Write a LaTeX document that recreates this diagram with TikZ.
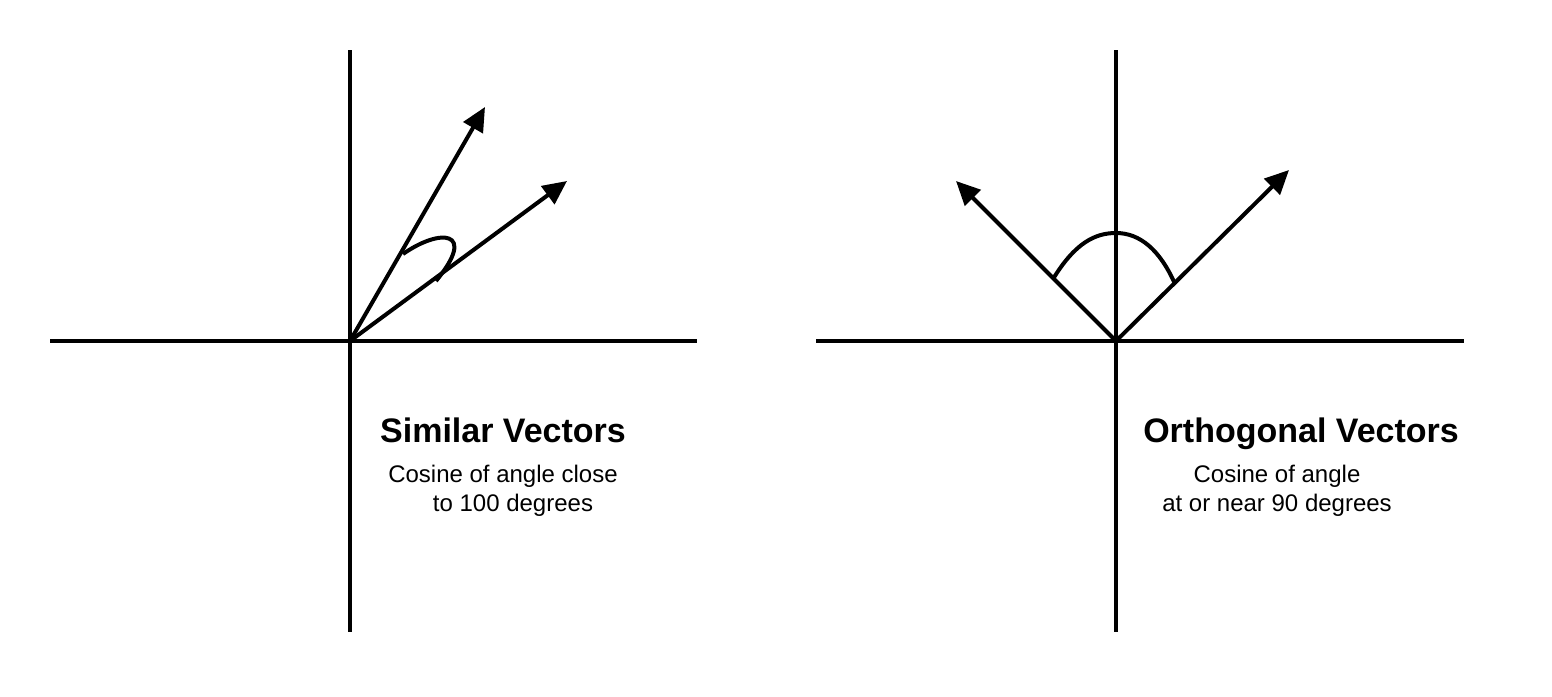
\documentclass[tikz,border=0pt]{standalone}
\usepackage{fontspec}
\setmainfont{Liberation Sans}
\usetikzlibrary{arrows.meta}
\begin{document}
\begin{tikzpicture}[x=1pt,y=-1pt,
  axis/.style={line width=4.4pt},
  vec/.style={line width=4pt,-{Triangle[length=24pt,width=22pt]}},
  anglearc/.style={line width=4pt},
  title/.style={font=\fontsize{34}{40}\selectfont\bfseries,anchor=base,inner sep=0pt},
  sub/.style={font=\fontsize{24}{28}\selectfont,anchor=base,inner sep=0pt}]
\useasboundingbox (0,0) rectangle (1552,696);
% left diagram
\coordinate (oL) at (350,341);
\coordinate (lxL) at (50,341);
\coordinate (lxR) at (697,341);
\coordinate (lyT) at (350,50);
\coordinate (lyB) at (350,632);
\coordinate (v1) at (485,107);
\coordinate (v2) at (567,181);
\draw[axis] (lxL) -- (lxR);
\draw[axis] (lyT) -- (lyB);
\draw[vec] (oL) -- (v1);
\draw[vec] (oL) -- (v2);
\coordinate (a1s) at (403,254);
\coordinate (a1e) at (436,281);
\draw[anglearc] (a1s) .. controls (440,228) and (478,230) .. (a1e);
\node[title] (t1) at (503,442) {Similar Vectors};
\node[sub] (s1a) at (503,482) {Cosine of angle close};
\node[sub] (s1b) at (513,511) {to 100 degrees};
% right diagram
\coordinate (oR) at (1116,341);
\coordinate (rxL) at (816,341);
\coordinate (rxR) at (1464,341);
\coordinate (ryT) at (1116,50);
\coordinate (ryB) at (1116,632);
\coordinate (w1) at (956,181);
\coordinate (w2) at (1289,170);
\draw[axis] (rxL) -- (rxR);
\draw[axis] (ryT) -- (ryB);
\draw[vec] (oR) -- (w1);
\draw[vec] (oR) -- (w2);
\coordinate (a2s) at (1053,279);
\coordinate (a2e) at (1175,284);
\draw[anglearc] (a2s) .. controls (1075,243) and (1095,233) .. (1116,233) .. controls (1140,233) and (1160,250) .. (a2e);
\node[title] (t2) at (1301,442) {Orthogonal Vectors};
\node[sub] (s2a) at (1277,482) {Cosine of angle};
\node[sub] (s2b) at (1277,511) {at or near 90 degrees};
\end{tikzpicture}
\end{document}
